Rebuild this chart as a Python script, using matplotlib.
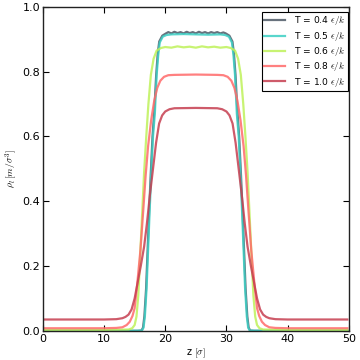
import matplotlib
matplotlib.use("Agg")
import matplotlib.pyplot as plt

labels = [r"T = 0.4 $\epsilon/k$", r"T = 0.5 $\epsilon/k$", r"T = 0.6 $\epsilon/k$",
          r"T = 0.8 $\epsilon/k$", r"T = 1.0 $\epsilon/k$"]
colors = ["#4e5966", "#3ccfc4", "#bff25a", "#ff6a6a", "#c63e50"]

# T = 0.4
z_04 = [0.25, 10.0, 15.5, 16.12, 16.37, 16.59, 16.87, 17.12, 17.37, 17.62, 17.92, 18.22, 18.52,
        18.77, 19.02, 19.52, 20.12, 20.5, 21.0, 21.5, 22.0, 22.5, 23.0, 23.5, 24.0, 24.5, 25.0,
        25.5, 26.0, 26.5, 27.0, 27.5, 28.0, 28.5, 29.0, 29.5, 29.88, 30.48, 30.98, 31.23, 31.48,
        31.78, 32.08, 32.38, 32.63, 32.88, 33.13, 33.41, 33.63, 33.88, 34.5, 40.0, 49.75]
rho_04 = [0.0, 0.0, 0.0, 0.001, 0.01, 0.045, 0.13, 0.25, 0.37, 0.48, 0.60, 0.68, 0.79,
          0.855, 0.893, 0.911, 0.918, 0.922, 0.918, 0.923, 0.919, 0.922, 0.918, 0.923, 0.919, 0.922, 0.918,
          0.923, 0.919, 0.922, 0.918, 0.922, 0.919, 0.922, 0.918, 0.921, 0.918, 0.911, 0.893, 0.855, 0.79,
          0.68, 0.60, 0.48, 0.37, 0.25, 0.13, 0.045, 0.01, 0.001, 0.0, 0.0, 0.0]

# T = 0.5
z_05 = [0.25, 10.0, 15.5, 16.2, 16.45, 16.67, 16.95, 17.2, 17.45, 17.7, 18.0, 18.3, 18.6,
        18.85, 19.1, 19.6, 20.2, 21.0, 23.0, 25.0, 27.0, 29.0, 29.8, 30.4, 30.9, 31.15, 31.4,
        31.7, 32.0, 32.3, 32.55, 32.8, 33.05, 33.33, 33.55, 33.8, 34.5, 40.0, 49.75]
rho_05 = [0.0005, 0.0005, 0.0005, 0.001, 0.01, 0.044, 0.13, 0.25, 0.37, 0.48, 0.60, 0.67, 0.79,
          0.85, 0.89, 0.908, 0.913, 0.915, 0.916, 0.915, 0.914, 0.915, 0.913, 0.908, 0.89, 0.85, 0.79,
          0.67, 0.60, 0.48, 0.37, 0.25, 0.13, 0.044, 0.01, 0.001, 0.0005, 0.0005, 0.0005]

# T = 0.6
z_06 = [0.25, 10.0, 14.0, 14.6, 15.0, 15.3, 15.6, 15.95, 16.25, 16.55, 16.9, 17.25, 17.65,
        18.1, 18.6, 19.3, 20.0, 21.0, 22.0, 23.0, 24.0, 25.0, 26.0, 27.0, 28.0, 29.0, 30.0,
        30.7, 31.4, 31.9, 32.35, 32.75, 33.1, 33.45, 33.75, 34.05, 34.4, 34.7, 35.0, 35.4,
        36.0, 40.0, 49.75]
rho_06 = [0.003, 0.003, 0.004, 0.008, 0.018, 0.044, 0.11, 0.25, 0.37, 0.49, 0.60, 0.70, 0.79,
          0.84, 0.865, 0.873, 0.876, 0.874, 0.878, 0.875, 0.877, 0.874, 0.878, 0.875, 0.877, 0.874, 0.876,
          0.873, 0.865, 0.84, 0.79, 0.70, 0.60, 0.49, 0.37, 0.25, 0.11, 0.044, 0.018, 0.008,
          0.004, 0.003, 0.003]

# T = 0.8
z_08 = [0.25, 10.0, 12.0, 13.0, 13.7, 14.2, 14.65, 15.0, 15.4, 15.95, 16.4, 16.8, 17.2,
        17.7, 18.2, 18.7, 19.2, 19.8, 20.5, 21.5, 25.0, 28.5, 29.5, 30.2, 30.8, 31.3, 31.8,
        32.3, 32.8, 33.2, 33.6, 34.05, 34.6, 35.0, 35.35, 35.8, 36.3, 37.0, 38.0, 40.0, 49.75]
rho_08 = [0.008, 0.008, 0.009, 0.011, 0.018, 0.028, 0.046, 0.07, 0.14, 0.25, 0.37, 0.48, 0.57,
          0.65, 0.71, 0.75, 0.772, 0.784, 0.789, 0.790, 0.791, 0.790, 0.789, 0.784, 0.772, 0.75, 0.71,
          0.65, 0.57, 0.48, 0.37, 0.25, 0.14, 0.07, 0.046, 0.028, 0.018, 0.011, 0.009, 0.008, 0.008]

# T = 1.0
z_10 = [0.25, 10.0, 12.0, 13.0, 13.5, 14.0, 14.5, 15.0, 15.5, 16.0, 16.55, 17.0, 17.5,
        18.0, 18.5, 19.0, 19.5, 20.0, 20.7, 21.5, 25.0, 28.5, 29.3, 30.0, 30.5, 31.0, 31.5,
        32.0, 32.5, 33.0, 33.45, 34.0, 34.5, 35.0, 35.5, 36.0, 36.5, 37.0, 38.0, 40.0, 49.75]
rho_10 = [0.035, 0.035, 0.036, 0.039, 0.043, 0.05, 0.066, 0.10, 0.15, 0.20, 0.26, 0.33, 0.42,
          0.50, 0.58, 0.64, 0.665, 0.677, 0.684, 0.687, 0.688, 0.687, 0.684, 0.677, 0.665, 0.64, 0.58,
          0.50, 0.42, 0.33, 0.26, 0.20, 0.15, 0.10, 0.066, 0.05, 0.043, 0.039, 0.036, 0.035, 0.035]

series = [(z_04, rho_04), (z_05, rho_05), (z_06, rho_06), (z_08, rho_08), (z_10, rho_10)]

plt.rcParams['font.family'] = ['DejaVu Sans']
plt.rcParams['mathtext.fontset'] = 'cm'

fig = plt.figure(figsize=(3.6, 3.6), dpi=100, facecolor='white')
ax = fig.add_axes([0.119, 0.081, 0.850, 0.900])

for (z, r), c, lab in zip(series, colors, labels):
    ax.plot(z, r, color=c, lw=1.6, alpha=0.85, label=lab)

ax.set_xlim(0, 50)
ax.set_ylim(0, 1.0)
ax.set_xticks([0, 10, 20, 30, 40, 50])
ax.set_yticks([0.0, 0.2, 0.4, 0.6, 0.8, 1.0])
ax.set_yticklabels(["0.0", "0.2", "0.4", "0.6", "0.8", "1.0"])
ax.tick_params(direction='in', top=True, right=True, length=4, width=0.8, labelsize=8, pad=2)
for s in ax.spines.values():
    s.set_linewidth(1.0)
    s.set_color('#222222')

ax.set_xlabel(r"z $[\sigma]$", fontsize=7, labelpad=2)
ax.set_ylabel(r"$\rho_l\,[m/\sigma^3]$", fontsize=7)
ax.yaxis.set_label_coords(-0.078, 0.5)

leg = ax.legend(loc='upper right', bbox_to_anchor=(0.997, 0.985), fontsize=6.6,
                fancybox=False, framealpha=1, edgecolor='black', handlelength=2.2,
                borderpad=0.3, labelspacing=0.25, borderaxespad=0, handletextpad=1.0)
leg.get_frame().set_linewidth(0.8)

fig.savefig("out.png", dpi=100, facecolor='white')
